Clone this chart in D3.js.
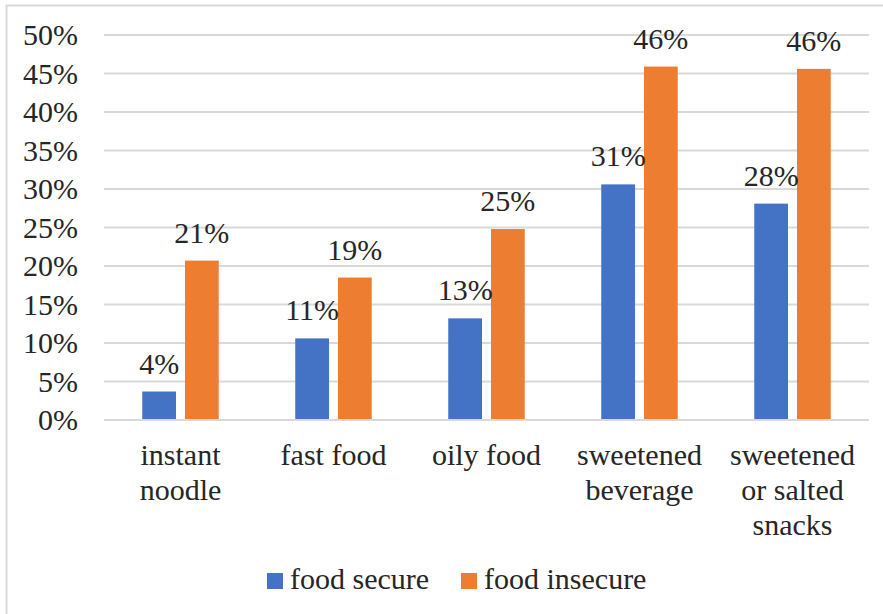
<!DOCTYPE html>
<html>
<head>
<meta charset="utf-8">
<script src="https://cdn.jsdelivr.net/npm/d3@7"></script>
<style>
  html, body { margin: 0; padding: 0; background: #fff; }
  svg { display: block; }
</style>
</head>
<body>
<svg id="chart" width="883" height="614"></svg>
<script>
// Share of respondents consuming each food type, by food security status
const categories = [
  ["instant", "noodle"],
  ["fast food"],
  ["oily food"],
  ["sweetened", "beverage"],
  ["sweetened", "or salted", "snacks"]
];
const seriesNames = ["food secure", "food insecure"];
const foodSecure   = [0.037, 0.106, 0.132, 0.306, 0.281];
const foodInsecure = [0.207, 0.185, 0.248, 0.459, 0.456];
const yTicks = [0, 0.05, 0.10, 0.15, 0.20, 0.25, 0.30, 0.35, 0.40, 0.45, 0.50];
const colors = ["#4472C4", "#ED7D31"];

const FONT = "'Liberation Serif', 'Times New Roman', Times, 'DejaVu Serif', serif";
const fontSize = 30;
const textColor = "#262626";

const svg = d3.select("#chart");
const plot = { left: 104, right: 869, top: 35, bottom: 420 };

// outer frame
svg.append("rect")
  .attr("x", 6.5).attr("y", 5.5)
  .attr("width", 900).attr("height", 700)
  .attr("fill", "none").attr("stroke", "#d9d9d9").attr("stroke-width", 2);

const keys = categories.map((c, i) => i);
const x0 = d3.scaleBand().domain(keys).range([plot.left, plot.right]).paddingInner(0.5).paddingOuter(0.25);
const x1 = d3.scaleBand().domain([0, 1]).range([0, x0.bandwidth()]).paddingInner(0.21);
const y = d3.scaleLinear().domain([0, 0.5]).range([plot.bottom, plot.top]);

// gridlines
svg.append("g")
  .selectAll("line")
  .data(yTicks)
  .join("line")
  .attr("x1", plot.left).attr("x2", plot.right)
  .attr("y1", d => y(d)).attr("y2", d => y(d))
  .attr("stroke", "#d9d9d9").attr("stroke-width", 2);

// y axis labels
const pct = d3.format(".0%");
const yAxis = d3.axisLeft(y).tickValues(yTicks).tickFormat(pct).tickSize(0).tickPadding(0);
const yg = svg.append("g").attr("transform", "translate(78,0)").call(yAxis)
  .attr("font-family", FONT).attr("font-size", fontSize);
yg.select(".domain").remove();
yg.selectAll("text")
  .style("font-family", FONT)
  .style("font-size", fontSize + "px")
  .attr("fill", textColor)
  .attr("dy", "0.33em");

// bars
const data = keys.map(i => [foodSecure[i], foodInsecure[i]]);
const groups = svg.append("g").selectAll("g")
  .data(data)
  .join("g")
  .attr("transform", (d, i) => `translate(${x0(i)},0)`);

groups.selectAll("rect")
  .data(d => d.map((v, s) => ({ v, s })))
  .join("rect")
  .attr("x", d => x1(d.s))
  .attr("width", x1.bandwidth())
  .attr("y", d => y(d.v))
  .attr("height", d => y(0) - y(d.v))
  .attr("fill", d => colors[d.s]);

// value labels
groups.selectAll("text")
  .data(d => d.map((v, s) => ({ v, s })))
  .join("text")
  .attr("x", d => x1(d.s) + x1.bandwidth() / 2)
  .attr("y", d => y(d.v) - 18)
  .attr("text-anchor", "middle")
  .style("font-family", FONT)
  .style("font-size", fontSize + "px")
  .attr("fill", textColor)
  .text(d => pct(d.v));

// x axis baseline
svg.append("line")
  .attr("x1", plot.left).attr("x2", plot.right)
  .attr("y1", y(0)).attr("y2", y(0))
  .attr("stroke", "#d9d9d9").attr("stroke-width", 2);

// category labels
const xAxis = d3.axisBottom(x0).tickSize(0).tickFormat(() => "");
const xg = svg.append("g").attr("transform", `translate(0,${plot.bottom})`).call(xAxis);
xg.select(".domain").remove();
xg.selectAll(".tick").each(function(i) {
  const t = d3.select(this).append("text")
    .attr("text-anchor", "middle")
    .style("font-family", FONT)
    .style("font-size", fontSize + "px")
    .attr("fill", textColor)
    .attr("y", 45);
  categories[i].forEach((line, k) => {
    t.append("tspan").attr("x", 0).attr("dy", k === 0 ? 0 : 35).text(line);
  });
});

// legend
const legendX = [267, 461];
const lg = svg.append("g").selectAll("g")
  .data(seriesNames)
  .join("g")
  .attr("transform", (d, i) => `translate(${legendX[i]},573)`);
lg.append("rect").attr("width", 16).attr("height", 16).attr("fill", (d, i) => colors[i]);
lg.append("text").attr("x", 23).attr("y", 16)
  .style("font-family", FONT)
  .style("font-size", fontSize + "px")
  .attr("fill", textColor)
  .text(d => d);
</script>
</body>
</html>
